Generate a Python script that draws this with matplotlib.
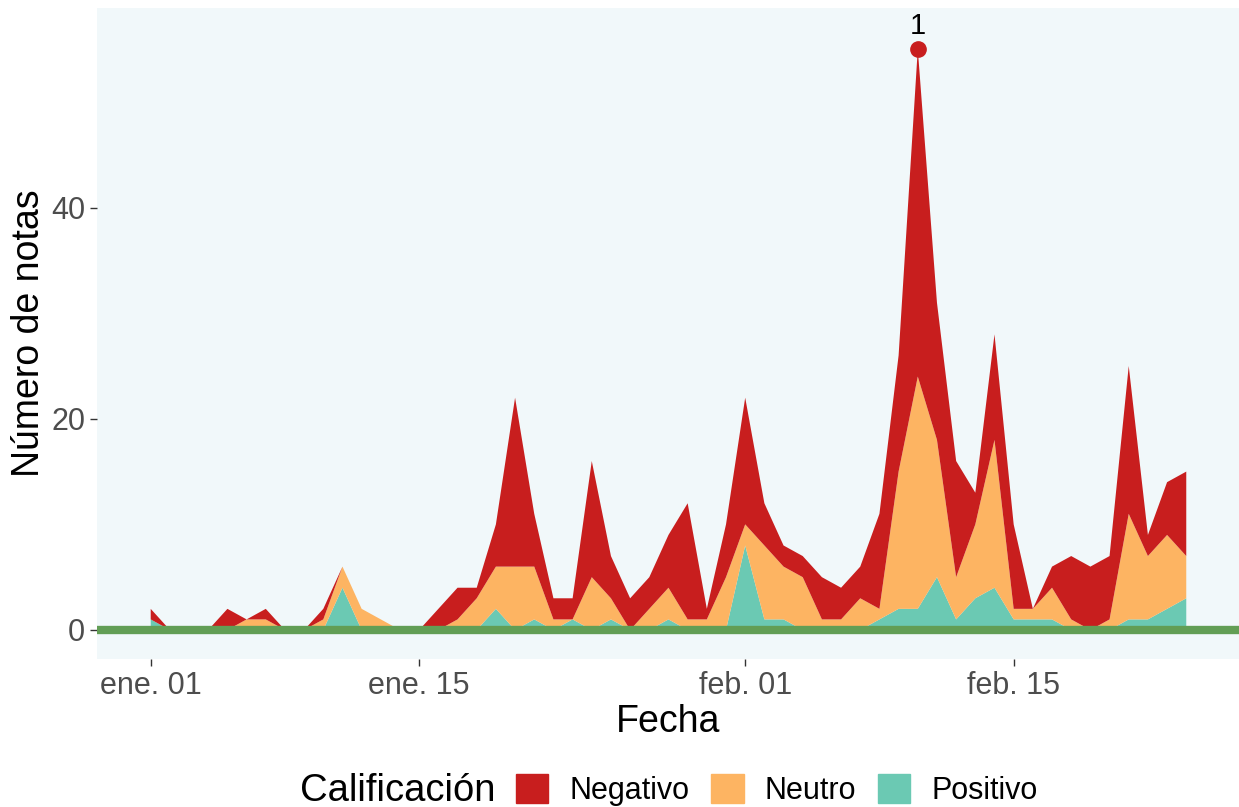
#Grafico de area apilada: numero de notas por dia y calificacion
import pandas as pd
import matplotlib.pyplot as plt
import matplotlib.dates as mdates

#dias del periodo analizado
fechas = pd.date_range('2023-01-01', periods=55, freq='D')

#numero de notas por calificacion
positivo = [1, 0, 0, 0, 0, 0, 0, 0, 0, 0, 4, 0, 0, 0, 0, 0, 0, 0, 2, 0,
            1, 0, 1, 0, 1, 0, 0, 1, 0, 0, 0, 8, 1, 1, 0, 0, 0, 0, 1, 2,
            2, 5, 1, 3, 4, 1, 1, 1, 0, 0, 0, 1, 1, 2, 3]
neutro = [0, 0, 0, 0, 0, 1, 1, 0, 0, 1, 2, 2, 1, 0, 0, 0, 1, 3, 4, 6,
          5, 1, 0, 5, 2, 0, 2, 3, 1, 1, 5, 2, 7, 5, 5, 1, 1, 3, 1, 13,
          22, 13, 4, 7, 14, 1, 1, 3, 1, 0, 1, 10, 6, 7, 4]
negativo = [1, 0, 0, 0, 2, 0, 1, 0, 0, 1, 0, 0, 0, 0, 0, 2, 3, 1, 4, 16,
            5, 2, 2, 11, 4, 3, 3, 5, 11, 1, 5, 12, 4, 2, 2, 4, 3, 3, 9, 11,
            31, 13, 11, 3, 10, 8, 0, 2, 6, 6, 6, 14, 2, 5, 8]

categorias = ['Negativo', 'Neutro', 'Positivo']
colores = {'Negativo': '#C81E1E', 'Neutro': '#FDB462', 'Positivo': '#6BC9B3'}

#ticks del eje x con meses en castellano
ticks_x = ['2023-01-01', '2023-01-15', '2023-02-01', '2023-02-15']
etiquetas_x = ['ene. 01', 'ene. 15', 'feb. 01', 'feb. 15']

plt.rcParams['font.family'] = ['Liberation Sans', 'DejaVu Sans']

fig = plt.figure(figsize=(12.39, 8.07), dpi=100)
ax = fig.add_axes([0.0783, 0.1834, 0.9217, 0.8066])
ax.set_facecolor('#F1F8FA')

ax.stackplot(fechas, positivo, neutro, negativo,
             colors=[colores['Positivo'], colores['Neutro'], colores['Negativo']],
             linewidth=0)

#linea en cero
ax.axhline(0, color='#629E55', linewidth=6, zorder=3)

#maximo del periodo
total = pd.Series(positivo) + pd.Series(neutro) + pd.Series(negativo)
i_max = total.idxmax()
ax.plot(fechas[i_max], total[i_max], 'o', color='#C81E1E', markersize=11, zorder=4)
ax.text(fechas[i_max], total[i_max] + 0.9, '1', ha='center', va='bottom', fontsize=21)

ax.set_xlim(fechas[0] - pd.Timedelta(days=2.8), fechas[-1] + pd.Timedelta(days=2.75))
ax.set_ylim(-2.75, 58.9)

ax.set_xticks([mdates.date2num(pd.Timestamp(t)) for t in ticks_x])
ax.set_xticklabels(etiquetas_x)
ax.set_yticks([0, 20, 40])
ax.tick_params(labelsize=22, labelcolor='#4D4D4D', color='#333333', length=5, width=1)
for s in ax.spines.values():
    s.set_visible(False)

ax.set_xlabel('Fecha', fontsize=27, labelpad=2)
ax.set_ylabel('Número de notas', fontsize=27, labelpad=3)

#leyenda abajo con titulo a la izquierda
handles = [plt.Rectangle((0, 0), 1, 1, color=colores[c]) for c in categorias]
fig.text(300 / 1239, 1 - 791 / 807, 'Calificación', fontsize=27.5, va='center', ha='left')
fig.legend(handles, categorias, loc='center left', bbox_to_anchor=(501 / 1239, 1 - 790 / 807),
           ncol=3, frameon=False, fontsize=22, handlelength=1.05, handleheight=1.05,
           handletextpad=0.69, columnspacing=0.72, borderpad=0)

fig.savefig('out.png', dpi=100)
